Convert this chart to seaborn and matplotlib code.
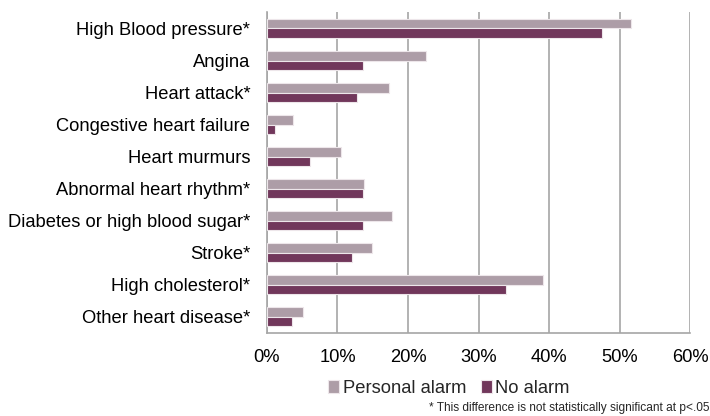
import pandas as pd
import numpy as np
import matplotlib
matplotlib.use('Agg')
import matplotlib.pyplot as plt
from matplotlib.ticker import FixedLocator, PercentFormatter
import seaborn as sns

conditions = ['High Blood pressure*', 'Angina', 'Heart attack*', 'Congestive heart failure',
              'Heart murmurs', 'Abnormal heart rhythm*', 'Diabetes or high blood sugar*',
              'Stroke*', 'High cholesterol*', 'Other heart disease*']
personal_alarm = [51.6, 22.6, 17.3, 3.7, 10.5, 13.8, 17.7, 14.9, 39.2, 5.1]
no_alarm = [47.5, 13.6, 12.7, 1.1, 6.1, 13.6, 13.6, 12.1, 33.9, 3.5]
groups = ['Personal alarm', 'No alarm']
colors = ['#B09AA8', '#7B2D5E']

df = pd.DataFrame({
    'condition': conditions * 2,
    'group': [groups[0]] * len(conditions) + [groups[1]] * len(conditions),
    'value': personal_alarm + no_alarm,
})

sns.set_style('white')
plt.rcParams['font.family'] = ['Liberation Sans', 'DejaVu Sans']

fig, ax = plt.subplots(figsize=(7.1, 4.16), dpi=100)
fig.subplots_adjust(left=0.376, right=0.972, top=0.97, bottom=0.2)

sns.barplot(data=df, y='condition', x='value', hue='group', order=conditions,
            hue_order=groups, palette=colors, orient='h', width=0.58, gap=0,
            edgecolor='#EDE6EA', linewidth=0.8, ax=ax, zorder=3)

ax.set_xlim(0, 60)
ax.set_ylim(len(conditions) - 0.5, -0.5)
ax.set_xticks(np.arange(0, 61, 10))
ax.xaxis.set_major_formatter(PercentFormatter(decimals=0))
ax.grid(axis='x', color='#A6A6A6', linewidth=1.2, zorder=0)
ax.set_xlabel('')
ax.set_ylabel('')

for s in ['top', 'right']:
    ax.spines[s].set_visible(False)
for s in ['left', 'bottom']:
    ax.spines[s].set_color('#A6A6A6')
    ax.spines[s].set_linewidth(1.2)

ax.tick_params(axis='y', which='major', length=0, labelsize=13.2, pad=12, colors='black')
ax.yaxis.set_minor_locator(FixedLocator(np.arange(-0.5, len(conditions), 1)))
ax.tick_params(axis='y', which='minor', length=5, width=1.2, color='#A6A6A6', direction='out')
ax.tick_params(axis='x', which='major', length=5, width=1.2, color='#A6A6A6',
               labelsize=13.2, pad=7, labelcolor='black')

ax.legend(loc='upper center', bbox_to_anchor=(0.43, -0.095), ncol=2, frameon=False,
          fontsize=13.2, handlelength=0.6, handleheight=0.7, handletextpad=0.2,
          columnspacing=0.8)

fig.text(0.604, 0.006, '* This difference is not statistically significant at p<.05',
         ha='left', va='bottom', fontsize=8.6)

fig.savefig('out.png', dpi=100)
